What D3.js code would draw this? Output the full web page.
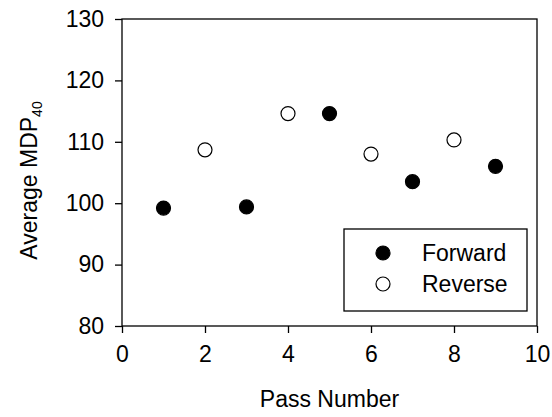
<!DOCTYPE html>
<html>
<head>
<meta charset="utf-8">
<script src="https://cdn.jsdelivr.net/npm/d3@7"></script>
<style>
  body { margin: 0; background: #fff; }
  text { font-family: Arial, "Liberation Sans", sans-serif; fill: #000; }
</style>
</head>
<body>
<div id="chart"></div>
<script>
const passForward = [1, 3, 5, 7, 9]
const mdpForward = [99.2, 99.4, 114.6, 103.5, 106.0]
const passReverse = [2, 4, 6, 8]
const mdpReverse = [108.7, 114.6, 108.0, 110.3]
const xTicks = [0, 2, 4, 6, 8, 10]
const yTicks = [80, 90, 100, 110, 120, 130]

const margin = { top: 19, left: 122, right: 15, bottom: 91 }
const width = 552 - margin.left - margin.right
const height = 417 - margin.top - margin.bottom
const fs = 23

var svg = d3.select('#chart')
    .append('svg')
    .attr('width', 552)
    .attr('height', 417)
    .append('g')
    .attr('transform', 'translate(' + margin.left + ',' + margin.top + ')')

var x = d3.scaleLinear().domain([0, 10]).range([0, width])
var y = d3.scaleLinear().domain([80, 130]).range([height, 0])

// frame
svg.append('rect')
    .attr('width', width).attr('height', height)
    .attr('fill', 'none').attr('stroke', '#000').attr('stroke-width', 1.3)

var xAxis = svg.append('g')
    .attr('transform', 'translate(0,' + height + ')')
    .call(d3.axisBottom(x).tickValues(xTicks).tickSize(7).tickPadding(9).tickSizeOuter(0))
var yAxis = svg.append('g')
    .call(d3.axisLeft(y).tickValues(yTicks).tickSize(7).tickPadding(11).tickSizeOuter(0))

svg.selectAll('.domain').remove()
svg.selectAll('.tick line').attr('stroke', '#000').attr('stroke-width', 1.3)
svg.selectAll('.tick text').attr('font-size', fs).attr('font-family', 'Arial, "Liberation Sans", sans-serif')
xAxis.selectAll('.tick text').attr('dy', '0.85em')

// axis titles
svg.append('text')
    .attr('x', width / 2).attr('y', 388)
    .attr('text-anchor', 'middle').attr('font-size', fs)
    .text('Pass Number')

var yl = svg.append('text')
    .attr('transform', 'translate(' + (-85) + ',' + (height / 2 + 8) + ') rotate(-90)')
    .attr('text-anchor', 'middle').attr('font-size', fs)
yl.append('tspan').text('Average MDP')
yl.append('tspan').attr('font-size', 14).attr('dy', 5).text('40')

// points
svg.selectAll('.fwd')
    .data(passForward)
    .enter().append('circle')
    .attr('class', 'fwd')
    .attr('cx', d => x(d))
    .attr('cy', (d, i) => y(mdpForward[i]))
    .attr('r', 7)
    .attr('fill', '#000').attr('stroke', '#000').attr('stroke-width', 1.2)

svg.selectAll('.rev')
    .data(passReverse)
    .enter().append('circle')
    .attr('class', 'rev')
    .attr('cx', d => x(d))
    .attr('cy', (d, i) => y(mdpReverse[i]))
    .attr('r', 7)
    .attr('fill', '#fff').attr('stroke', '#000').attr('stroke-width', 1.2)

// legend
var legend = svg.append('g').attr('transform', 'translate(' + (344 - margin.left) + ',' + (229 - margin.top) + ')')
legend.append('rect')
    .attr('width', 183).attr('height', 82)
    .attr('fill', '#fff').attr('stroke', '#000').attr('stroke-width', 1.3)
var items = [{ name: 'Forward', fill: '#000' }, { name: 'Reverse', fill: '#fff' }]
items.forEach(function(d, i) {
  legend.append('circle')
      .attr('cx', 39).attr('cy', 24 + i * 31).attr('r', 7)
      .attr('fill', d.fill).attr('stroke', '#000').attr('stroke-width', 1.2)
  legend.append('text')
      .attr('x', 78).attr('y', 24 + i * 31).attr('dy', '0.36em')
      .attr('font-size', fs)
      .text(d.name)
})
</script>
</body>
</html>
